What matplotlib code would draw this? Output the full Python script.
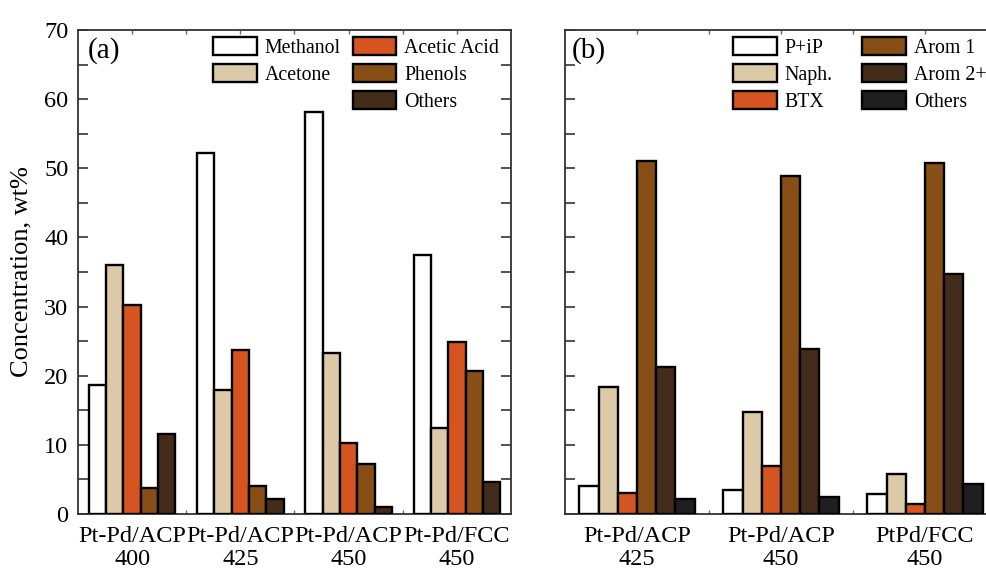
import matplotlib
matplotlib.use("Agg")
import matplotlib.pyplot as plt
from matplotlib.patches import Rectangle
from matplotlib.ticker import MultipleLocator, FixedLocator
import numpy as np

plt.rcParams['font.family'] = ['Liberation Serif', 'DejaVu Serif']

# ---- Panel (a) data ----
cats_a = ["Pt-Pd/ACP\n400", "Pt-Pd/ACP\n425", "Pt-Pd/ACP\n450", "Pt-Pd/FCC\n450"]
series_a = ["Methanol", "Acetone", "Acetic Acid", "Phenols", "Others"]
methanol = [18.7, 52.2, 58.1, 37.5]
acetone = [36.0, 17.9, 23.3, 12.4]
acetic = [30.2, 23.7, 10.3, 24.9]
phenols = [3.7, 4.0, 7.2, 20.7]
others_a = [11.6, 2.2, 1.0, 4.6]
colors_a = ["#ffffff", "#dcc9a7", "#d6541f", "#874e16", "#432c1a"]

# ---- Panel (b) data ----
cats_b = ["Pt-Pd/ACP\n425", "Pt-Pd/ACP\n450", "PtPd/FCC\n450"]
series_b = ["P+iP", "Naph.", "BTX", "Arom 1", "Arom 2+", "Others"]
pip = [4.1, 3.5, 2.9]
naph = [18.4, 14.8, 5.8]
btx = [3.0, 6.9, 1.4]
arom1 = [51.0, 48.9, 50.8]
arom2 = [21.3, 23.8, 34.7]
others_b = [2.1, 2.4, 4.3]
colors_b = ["#ffffff", "#dcc9a7", "#d6541f", "#874e16", "#432c1a", "#1f1f1f"]

fig = plt.figure(figsize=(9.87, 5.72), dpi=100)
axa = fig.add_axes([78/987, 1-514/572, 433/987, 484/572])
axb = fig.add_axes([565/987, 1-514/572, 432/987, 484/572])

EC = "#000000"
LW = 1.7

def draw(ax, data, colors, cats, total=0.8):
    n = len(data)
    w = total / n
    x = np.arange(len(cats)) + 0.5
    handles = []
    for i, (vals, c) in enumerate(zip(data, colors)):
        b = ax.bar(x - total/2 + w*(i+0.5), vals, width=w, color=c,
                   edgecolor=EC, linewidth=LW, zorder=3)
        handles.append(b)
    ax.set_xlim(0, len(cats))
    ax.set_ylim(0, 70)
    ax.xaxis.set_major_locator(FixedLocator(x))
    ax.set_xticklabels(cats, linespacing=1.12)
    ax.xaxis.set_minor_locator(FixedLocator(np.arange(1, len(cats))))
    ax.yaxis.set_major_locator(MultipleLocator(10))
    ax.yaxis.set_minor_locator(MultipleLocator(5))
    ax.tick_params(axis='y', which='both', direction='in', left=True, right=True,
                   length=7, width=1.2, color='#333333', labelsize=17.5, pad=7)
    ax.tick_params(axis='x', which='both', direction='in', top=True, bottom=True,
                   length=3, width=1.0, color='#666666', labelsize=17.5, pad=9)
    for s in ax.spines.values():
        s.set_linewidth(1.3)
        s.set_color('#333333')
    return handles

ha = draw(axa, [methanol, acetone, acetic, phenols, others_a], colors_a, cats_a)
hb = draw(axb, [pip, naph, btx, arom1, arom2, others_b], colors_b, cats_b)
axb.tick_params(axis='y', labelleft=False)

axa.set_ylabel("Concentration, wt%", fontsize=19, labelpad=8)

leg_kw = dict(ncol=2, loc='upper left', frameon=False, fontsize=14.3,
              handlelength=2.2, handleheight=1.05, handletextpad=0.4,
              labelspacing=0.3, borderaxespad=0.0, borderpad=0.0)

blank = Rectangle((0, 0), 1, 1, visible=False)
leg_a = axa.legend([ha[0], ha[1], blank, ha[2], ha[3], ha[4]],
                   [series_a[0], series_a[1], "", series_a[2], series_a[3], series_a[4]],
                   columnspacing=0.6, bbox_to_anchor=((213-78)/433, (514-37)/484), **leg_kw)
leg_b = axb.legend(hb, series_b, columnspacing=1.5,
                   bbox_to_anchor=((733-565)/432, (514-37)/484), **leg_kw)

axa.text(0.022, 0.985, "(a)", transform=axa.transAxes, fontsize=21, va='top', ha='left')
axb.text(0.015, 0.985, "(b)", transform=axb.transAxes, fontsize=21, va='top', ha='left')

fig.savefig("out.png", dpi=100)
